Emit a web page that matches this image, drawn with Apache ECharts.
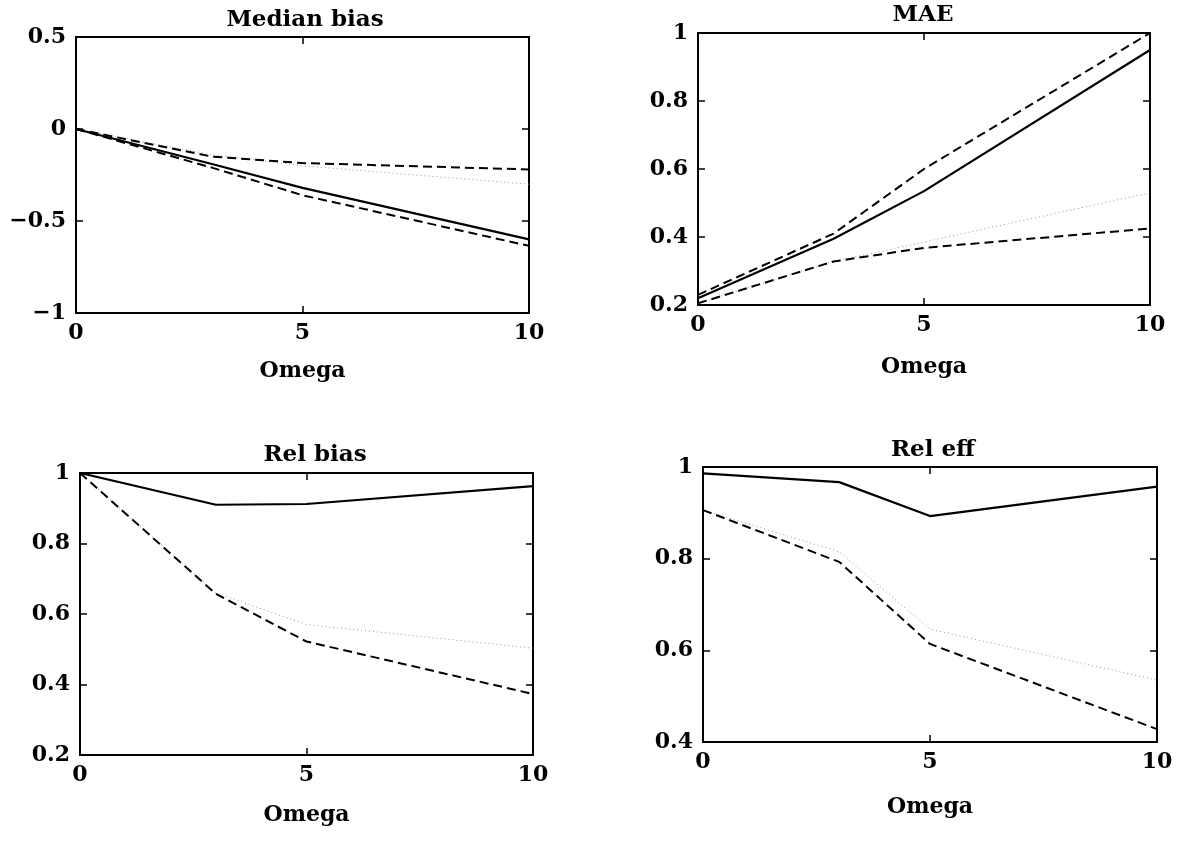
<!DOCTYPE html>
<html>
<head>
<meta charset="utf-8">
<script src="https://cdn.jsdelivr.net/npm/echarts@6/dist/echarts.min.js"></script>
<style>
html,body{margin:0;padding:0;background:#fff;}
#chart{width:1181px;height:846px;}
</style>
</head>
<body>
<div id="chart"></div>
<script>
// ---- data ----
var omega = [0, 3, 5, 10];

var medSolid = [0, -0.19, -0.32, -0.60];
var medDash  = [0, -0.21, -0.36, -0.635];
var medDash2 = [0, -0.15, -0.185, -0.22];
var medDot   = [0, -0.14, -0.20, -0.30];

var maeSolid = [0.22, 0.395, 0.535, 0.95];
var maeDash  = [0.23, 0.41, 0.60, 1.0];
var maeDash2 = [0.205, 0.328, 0.368, 0.425];
var maeDot   = [0.205, 0.328, 0.385, 0.53];

var rbSolid = [1, 0.91, 0.912, 0.963];
var rbDash  = [1, 0.657, 0.522, 0.373];
var rbDot   = [1, 0.66, 0.57, 0.503];

var reSolid = [0.986, 0.967, 0.893, 0.957];
var reDash  = [0.906, 0.793, 0.614, 0.428];
var reDot   = [0.906, 0.815, 0.646, 0.535];

var titles = ['Median bias', 'MAE', 'Rel bias', 'Rel eff'];
var xName = 'Omega';
var yRanges = [[-1, 0.5, 0.5], [0.2, 1, 0.2], [0.2, 1, 0.2], [0.4, 1, 0.2]];

// ---- layout ----
var grids = [
  {left: 76, top: 37, width: 453, height: 276},
  {left: 698, top: 33, width: 452, height: 272},
  {left: 80, top: 473, width: 453, height: 282},
  {left: 703, top: 467, width: 454, height: 275}
];
var nameGaps = [47, 51, 49, 54];
var titlePos = [[300, 4], [918, -1], [310, 439], [928, 434]];

var FONT = 'DejaVu Serif';

function pairs(ys) { return omega.map(function (x, i) { return [x, ys[i]]; }); }
function fmt(v) {
  var s = String(Math.round(v * 10) / 10);
  return s.replace('-', '\u2212');
}

var xAxes = [], yAxes = [], series = [], titleArr = [];
var axisLine = {show: true, onZero: false, lineStyle: {color: '#000', width: 2}};
var tick = {show: true, inside: true, length: 7, lineStyle: {color: '#000', width: 1.5}};
var labelStyle = {color: '#000', fontFamily: FONT, fontWeight: 'bold', fontSize: 22};

for (var g = 0; g < 4; g++) {
  titleArr.push({
    text: titles[g], left: titlePos[g][0], top: titlePos[g][1], textAlign: 'center',
    textStyle: {color: '#000', fontFamily: FONT, fontWeight: 'bold', fontSize: 23}
  });
  xAxes.push({
    type: 'value', gridIndex: g, position: 'bottom', min: 0, max: 10, interval: 5,
    name: xName, nameLocation: 'middle', nameGap: nameGaps[g],
    nameTextStyle: {color: '#000', fontFamily: FONT, fontWeight: 'bold', fontSize: 22},
    axisLine: axisLine, axisTick: tick,
    axisLabel: Object.assign({margin: 9, formatter: function (v) { return fmt(v); }}, labelStyle),
    splitLine: {show: false}
  });
  xAxes.push({
    type: 'value', gridIndex: g, position: 'top', min: 0, max: 10, interval: 5,
    axisLine: axisLine, axisTick: tick, axisLabel: {show: false}, splitLine: {show: false}
  });
  var r = yRanges[g];
  yAxes.push({
    type: 'value', gridIndex: g, position: 'left', min: r[0], max: r[1], interval: r[2],
    axisLine: axisLine, axisTick: tick,
    axisLabel: Object.assign({margin: 10, formatter: function (v) { return fmt(v); }}, labelStyle),
    splitLine: {show: false}
  });
  yAxes.push({
    type: 'value', gridIndex: g, position: 'right', min: r[0], max: r[1], interval: r[2],
    axisLine: axisLine, axisTick: tick, axisLabel: {show: false}, splitLine: {show: false}
  });
}

var solidStyle = {color: '#000', width: 2.2, type: 'solid'};
var dashStyle = {color: '#000', width: 2, type: [9, 5]};
var dotStyle = {color: '#9a9a9a', width: 1, type: [1, 3]};

function addLine(g, ys, style, z) {
  series.push({
    type: 'line', xAxisIndex: g * 2, yAxisIndex: g * 2, data: pairs(ys),
    showSymbol: false, symbol: 'none', lineStyle: style, z: z, silent: true, animation: false
  });
}

addLine(0, medDot, dotStyle, 1);
addLine(0, medDash2, dashStyle, 2);
addLine(0, medDash, dashStyle, 2);
addLine(0, medSolid, solidStyle, 3);

addLine(1, maeDot, dotStyle, 1);
addLine(1, maeDash2, dashStyle, 2);
addLine(1, maeDash, dashStyle, 2);
addLine(1, maeSolid, solidStyle, 3);

addLine(2, rbDot, dotStyle, 1);
addLine(2, rbDash, dashStyle, 2);
addLine(2, rbSolid, solidStyle, 3);

addLine(3, reDot, dotStyle, 1);
addLine(3, reDash, dashStyle, 2);
addLine(3, reSolid, solidStyle, 3);

var chart = echarts.init(document.getElementById('chart'), null, {renderer: 'canvas'});
chart.setOption({
  backgroundColor: '#fff',
  animation: false,
  title: titleArr,
  grid: grids,
  xAxis: xAxes,
  yAxis: yAxes,
  series: series
});
</script>
</body>
</html>
